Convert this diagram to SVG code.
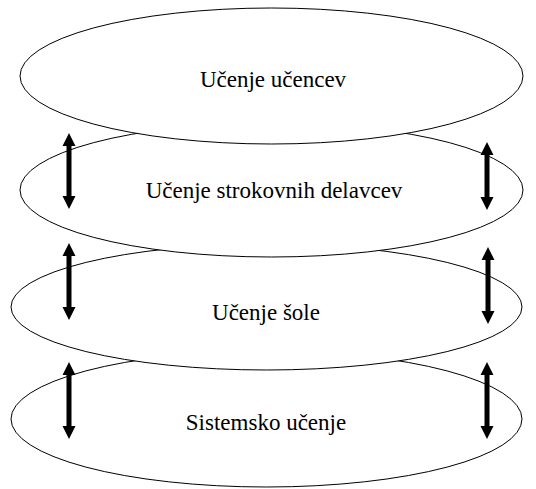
<svg xmlns="http://www.w3.org/2000/svg" width="536" height="489" viewBox="0 0 536 489">
<style>
.el{fill:#fff;stroke:#000;stroke-width:1}
.t{font-family:"Liberation Serif","Times New Roman",serif;font-size:23px;fill:#000;text-anchor:middle}
.ar{fill:#000;stroke:none}
</style>
<defs>
<path id="arr" class="ar" d="M0,0 L6.5,13 L2.5,13 L2.5,-13 L6.5,-13 Z"/>
</defs>
<rect width="536" height="489" fill="#fff"/>
<g id="node4"><ellipse class="el" cx="266.5" cy="419" rx="255.5" ry="68"/><text class="t" x="266" y="430">Sistemsko učenje</text></g>
<g id="node3"><ellipse class="el" cx="266.5" cy="307" rx="255.5" ry="63"/><text class="t" x="266" y="320">Učenje šole</text></g>
<g id="node2"><ellipse class="el" cx="271.5" cy="190" rx="251.5" ry="67"/><text class="t" x="274" y="198">Učenje strokovnih delavcev</text></g>
<g id="node1"><ellipse class="el" cx="271.5" cy="76" rx="251.5" ry="68"/><text class="t" x="273" y="87">Učenje učencev</text></g>
<g id="connectors">
<path class="ar" d="M69,133 L75.5,146 L71.5,146 L71.5,196 L75.5,196 L69,209 L62.5,196 L66.5,196 L66.5,146 L62.5,146 Z"/>
<path class="ar" d="M487,142 L493.5,155 L489.5,155 L489.5,197 L493.5,197 L487,210 L480.5,197 L484.5,197 L484.5,155 L480.5,155 Z"/>
<path class="ar" d="M69,243 L75.5,256 L71.5,256 L71.5,307 L75.5,307 L69,320 L62.5,307 L66.5,307 L66.5,256 L62.5,256 Z"/>
<path class="ar" d="M488,247 L494.5,260 L490.5,260 L490.5,311 L494.5,311 L488,324 L481.5,311 L485.5,311 L485.5,260 L481.5,260 Z"/>
<path class="ar" d="M69,362 L75.5,375 L71.5,375 L71.5,426 L75.5,426 L69,439 L62.5,426 L66.5,426 L66.5,375 L62.5,375 Z"/>
<path class="ar" d="M487,362 L493.5,375 L489.5,375 L489.5,426 L493.5,426 L487,439 L480.5,426 L484.5,426 L484.5,375 L480.5,375 Z"/>
</g>
</svg>
